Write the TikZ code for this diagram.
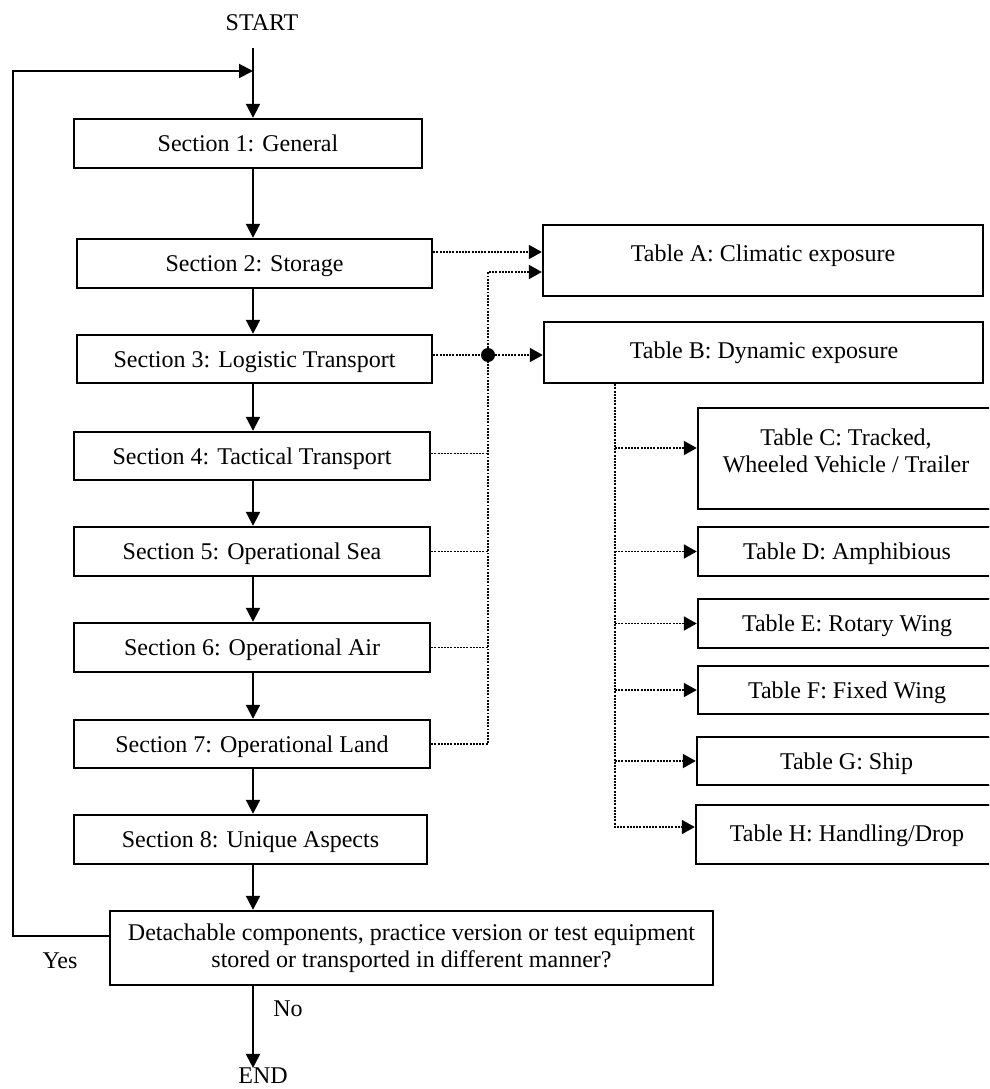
\documentclass[tikz,border=0pt]{standalone}
\usepackage{fontspec}
\setmainfont{Liberation Serif}
\usetikzlibrary{arrows.meta,calc}
\begin{document}
\begin{tikzpicture}[x=1pt,y=-1pt,
  every node/.style={font=\fontsize{24}{27}\selectfont, text=black},
  box/.style={draw, line width=2.4pt, inner sep=0pt, align=center},
  one/.style={text height=18.5pt, text depth=2pt},
  lbl/.style={inner sep=0pt},
  conn/.style={line width=2pt, -{Triangle[length=14pt,width=14pt]}},
  dotl/.style={line width=1.9pt, dash pattern=on 1.9pt off 1.3pt},
  dota/.style={dotl, -{Triangle[length=13pt,width=14pt]}}]
\useasboundingbox (0,0) rectangle (989,1089);
\clip (0,0) rectangle (989,1089);

% main column
\node[lbl] (start) at (262,23) {START};
\coordinate (spine) at (253,0);
\node[box, one, minimum width=348pt, minimum height=49pt] (b1) at (248,143.5) {Section 1: General};
\node[box, one, minimum width=355pt, minimum height=49pt] (b2) at (254.5,263.5) {Section 2: Storage};
\node[box, one, minimum width=355pt, minimum height=48pt] (b3) at (254.5,359) {Section 3: Logistic Transport};
\node[box, one, minimum width=356pt, minimum height=48pt] (b4) at (252,456) {Section 4: Tactical Transport};
\node[box, one, minimum width=356pt, minimum height=49pt] (b5) at (252,551.5) {Section 5: Operational Sea};
\node[box, one, minimum width=356pt, minimum height=49pt] (b6) at (252,647.5) {Section 6: Operational Air};
\node[box, one, minimum width=356pt, minimum height=48pt] (b7) at (252,744) {Section 7: Operational Land};
\node[box, one, minimum width=353pt, minimum height=49pt] (b8) at (250.5,839.5) {Section 8: Unique Aspects};
\node[box, minimum width=603pt, minimum height=74pt] (dec) at (411.5,948)
  {Detachable components, practice version or test equipment\\stored or transported in different manner?};
\node[lbl] (end) at (263,1076) {END};
\node[lbl] (yes) at (60,961) {Yes};
\node[lbl] (no) at (288,1009) {No};

\draw[conn, shorten <=17pt] (start.south -| spine) -- (b1.north -| spine);
\draw[conn] (b1.south -| spine) -- (b2.north -| spine);
\draw[conn] (b2.south -| spine) -- (b3.north -| spine);
\draw[conn] (b3.south -| spine) -- (b4.north -| spine);
\draw[conn] (b4.south -| spine) -- (b5.north -| spine);
\draw[conn] (b5.south -| spine) -- (b6.north -| spine);
\draw[conn] (b6.south -| spine) -- (b7.north -| spine);
\draw[conn] (b7.south -| spine) -- (b8.north -| spine);
\draw[conn] (b8.south -| spine) -- (dec.north -| spine);
\draw[conn] (dec.south -| spine) -- (end.north -| spine);
\coordinate (loop) at (13,71);
\draw[conn] ([yshift=12pt]dec.west) -| (loop) -- (loop -| spine);

% tables
\node[box, minimum width=440pt, minimum height=71pt] (tA) at (763,260.5) {};
\node[lbl, one] (tAt) at (763,253) {Table A: Climatic exposure};
\node[box, minimum width=439pt, minimum height=61pt] (tB) at (763.5,352.5) {};
\node[lbl, one] (tBt) at (764,350) {Table B: Dynamic exposure};
\node[box, minimum width=298pt, minimum height=101pt] (tC) at (847,458.5) {};
\node[lbl, align=center] (tCt) at (846,451) {Table C: Tracked,\\Wheeled Vehicle / Trailer};
\node[box, one, minimum width=298pt, minimum height=49pt] (tD) at (847,551.5) {Table D: Amphibious};
\node[box, one, minimum width=298pt, minimum height=49pt] (tE) at (847,623.5) {Table E: Rotary Wing};
\node[box, one, minimum width=298pt, minimum height=48pt] (tF) at (847,690) {Table F: Fixed Wing};
\node[box, one, minimum width=299pt, minimum height=48pt] (tG) at (846.5,761) {Table G: Ship};
\node[box, minimum width=300pt, minimum height=59pt] (tH) at (846,834.5) {};
\node[lbl, one] (tHt) at (847,833) {Table H: Handling/Drop};

% dotted connectors, left bus
\node[circle, fill=black, inner sep=0pt, minimum size=14pt] (dot) at (488,355) {};
\draw[dota] ([yshift=11.5pt]b2.east) -- ([yshift=11.5pt]b2.east -| tA.west);
\draw[dotl] ([yshift=4pt]b3.east) -- (dot);
\draw[dota] (dot) -- (dot -| tB.west);
\draw[dota] (dot) |- ([yshift=-11.5pt]tA.west);
\draw[dotl] ([yshift=2.5pt]b4.east) -- ([yshift=2.5pt]b4.east -| dot);
\draw[dotl] (b5.east) -- (b5.east -| dot);
\draw[dotl] (b6.east) -- (b6.east -| dot);
\draw[dotl] (b7.east) -| (dot);

% dotted connectors, table B branch
\coordinate (brx) at (615,0);
\coordinate (cC) at ([yshift=10.5pt]tC.west);
\coordinate (cH) at ([yshift=7.5pt]tH.west);
\draw[dota] (tB.south -| brx) |- (cH);
\draw[dota] (brx |- cC) -- (cC);
\draw[dota] (brx |- tD.west) -- (tD.west);
\draw[dota] (brx |- tE.west) -- (tE.west);
\draw[dota] (brx |- tF.west) -- (tF.west);
\draw[dota] (brx |- tG.west) -- (tG.west);
\end{tikzpicture}
\end{document}
